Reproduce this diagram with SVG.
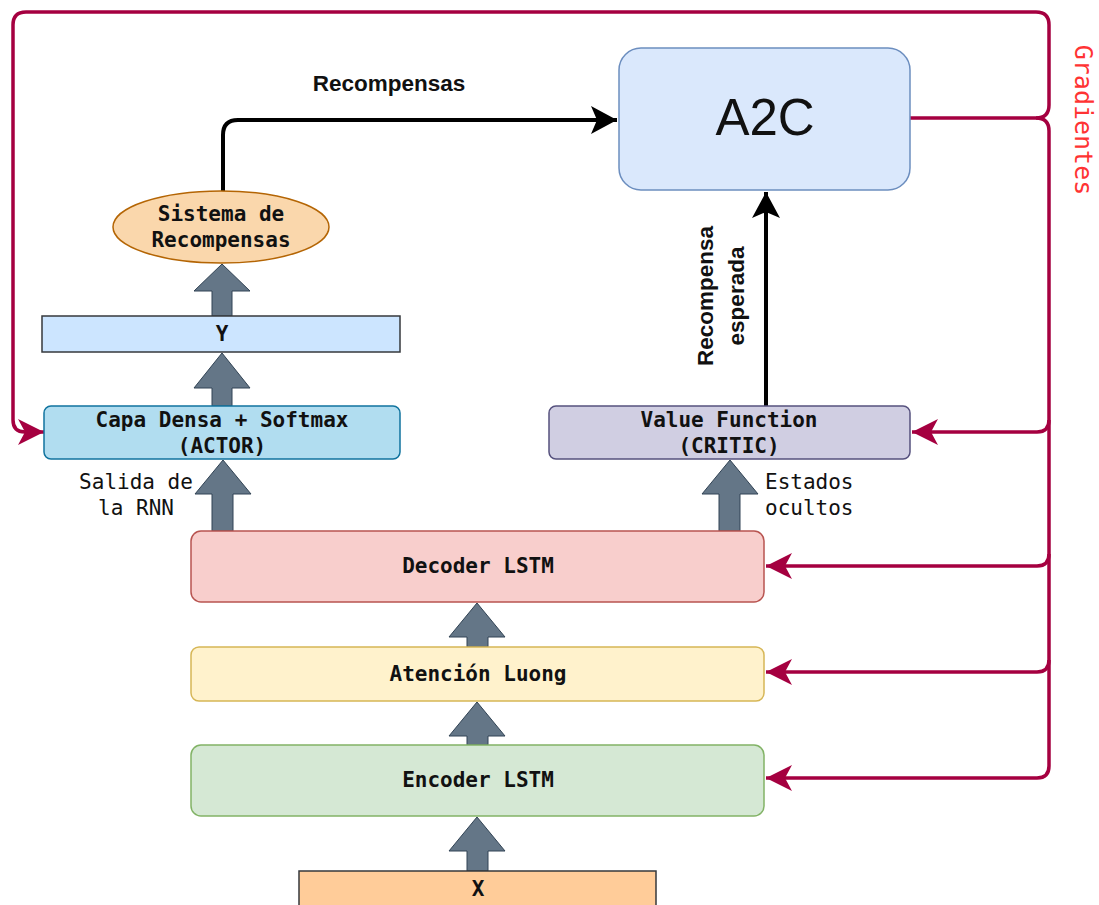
<svg xmlns="http://www.w3.org/2000/svg" width="1099" height="905" viewBox="0 0 1099 905">
<defs>
<style>
.mono{font-family:"DejaVu Sans Mono","Liberation Mono",monospace;font-size:21px;fill:#111;}
.b{font-weight:bold;}
.sans{font-family:"Liberation Sans",Arial,sans-serif;fill:#111;}
.red{fill:none;stroke:#A50040;stroke-width:3.5;stroke-linejoin:round;}
.blk{fill:none;stroke:#000;stroke-width:4;stroke-linejoin:round;}
.blockarrow{fill:#647687;stroke:#314354;stroke-width:1;}
</style>
<marker id="redhead" markerUnits="userSpaceOnUse" markerWidth="28" markerHeight="28" refX="26" refY="13" orient="auto">
<path d="M0,0 L26,13 L0,26 L7,13 Z" fill="#A50040"/>
</marker>
<marker id="blkhead" markerUnits="userSpaceOnUse" markerWidth="28" markerHeight="30" refX="26" refY="14" orient="auto">
<path d="M0,0 L26,14 L0,28 L6,14 Z" fill="#000"/>
</marker>
</defs>
<rect width="1099" height="905" fill="#fff"/>

<g id="connectors">
<path class="red" d="M908,118 L1036,118 Q1049,118 1049,105 L1049,25 Q1049,12 1036,12 L26,12 Q13,12 13,25 L13,420 Q13,432 25,432 L44,432" marker-end="url(#redhead)"/>
<path class="red" d="M1036,118 Q1049,118 1049,131 L1049,420 Q1049,432 1037,432 L912,432" marker-end="url(#redhead)"/>
<path class="red" d="M1049,420 L1049,554 Q1049,566 1037,566 L766,566" marker-end="url(#redhead)"/>
<path class="red" d="M1049,554 L1049,660 Q1049,672 1037,672 L766,672" marker-end="url(#redhead)"/>
<path class="red" d="M1049,660 L1049,766 Q1049,778 1037,778 L766,778" marker-end="url(#redhead)"/>
<path class="blk" d="M223,192 L223,135 Q223,120 238,120 L617,120" marker-end="url(#blkhead)"/>
<path class="blk" d="M766,406 L766,192" marker-end="url(#blkhead)"/>
<polygon class="blockarrow" points="212,316 212,291 194,291 222,264 250,291 232,291 232,316"/>
<polygon class="blockarrow" points="212,406 212,388 194,388 222,353 250,388 232,388 232,406"/>
<polygon class="blockarrow" points="212,531 212,494 195,494 223,460 251,494 233,494 233,531"/>
<polygon class="blockarrow" points="719,531 719,494 702,494 730,460 758,494 740,494 740,531"/>
<polygon class="blockarrow" points="467,647 467,637 449,637 477,603 505,637 488,637 488,647"/>
<polygon class="blockarrow" points="467,745 467,736 449,736 477,702 505,736 488,736 488,745"/>
<polygon class="blockarrow" points="467,871 467,851 449,851 477,817 505,851 488,851 488,871"/>
</g>

<g id="label-recompensas">
<text class="sans b" x="389" y="91" font-size="22.5" text-anchor="middle">Recompensas</text>
</g>
<g id="label-esperada">
<text class="sans b" font-size="22.5" text-anchor="middle" transform="translate(713,296) rotate(-90)">Recompensa</text>
<text class="sans b" font-size="22.5" text-anchor="middle" transform="translate(744,296) rotate(-90)">esperada</text>
</g>
<g id="label-gradientes">
<text class="mono" text-anchor="middle" style="fill:#FF3333;font-size:25px" transform="translate(1075,120) rotate(90)">Gradientes</text>
</g>
<g id="label-salida">
<text class="mono" x="136" y="489" text-anchor="middle">Salida de</text>
<text class="mono" x="136" y="515" text-anchor="middle">la RNN</text>
</g>
<g id="label-estados">
<text class="mono" x="765" y="489">Estados</text>
<text class="mono" x="765" y="515">ocultos</text>
</g>

<g id="node-a2c">
<rect x="619" y="48" width="291" height="142" rx="22" fill="#dae8fc" stroke="#6c8ebf" stroke-width="1.5"/>
<text class="sans" x="765" y="135" font-size="51" text-anchor="middle">A2C</text>
</g>
<g id="node-sistema">
<ellipse cx="221" cy="227" rx="108" ry="36" fill="#fad7ac" stroke="#b46504" stroke-width="1.5"/>
<text class="mono b" x="221" y="221" text-anchor="middle">Sistema de</text>
<text class="mono b" x="221" y="247" text-anchor="middle">Recompensas</text>
</g>
<g id="node-y">
<rect x="42" y="316" width="358" height="36" fill="#cce5ff" stroke="#36393d" stroke-width="1.5"/>
<text class="mono b" x="222" y="341" text-anchor="middle">Y</text>
</g>
<g id="node-actor">
<rect x="44" y="406" width="356" height="53" rx="7" fill="#b1ddf0" stroke="#10739e" stroke-width="1.5"/>
<text class="mono b" x="222" y="427" text-anchor="middle">Capa Densa + Softmax</text>
<text class="mono b" x="222" y="453" text-anchor="middle">(ACTOR)</text>
</g>
<g id="node-critic">
<rect x="549" y="406" width="361" height="53" rx="7" fill="#d0cee2" stroke="#56517e" stroke-width="1.5"/>
<text class="mono b" x="729" y="427" text-anchor="middle">Value Function</text>
<text class="mono b" x="729" y="453" text-anchor="middle">(CRITIC)</text>
</g>
<g id="node-decoder">
<rect x="191" y="531" width="573" height="71" rx="10" fill="#f8cecc" stroke="#b85450" stroke-width="1.5"/>
<text class="mono b" x="478" y="573" text-anchor="middle">Decoder LSTM</text>
</g>
<g id="node-atencion">
<rect x="191" y="647" width="573" height="54" rx="8" fill="#fff2cc" stroke="#d6b656" stroke-width="1.5"/>
<text class="mono b" x="478" y="681" text-anchor="middle">Atención Luong</text>
</g>
<g id="node-encoder">
<rect x="191" y="745" width="573" height="71" rx="10" fill="#d5e8d4" stroke="#82b366" stroke-width="1.5"/>
<text class="mono b" x="478" y="787" text-anchor="middle">Encoder LSTM</text>
</g>
<g id="node-x">
<rect x="299" y="871" width="357" height="40" fill="#ffcc99" stroke="#36393d" stroke-width="1.5"/>
<text class="mono b" x="478" y="896" text-anchor="middle">X</text>
</g>
</svg>
